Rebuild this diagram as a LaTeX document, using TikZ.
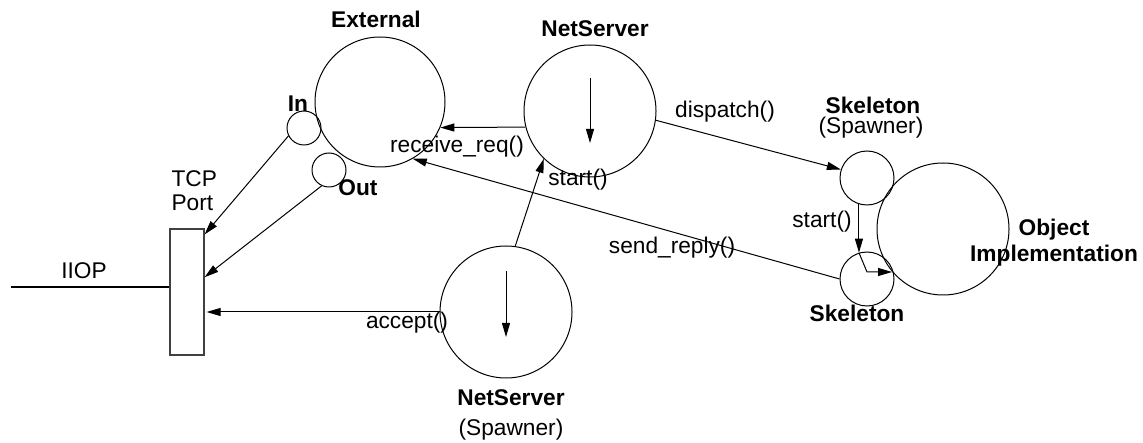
\documentclass[tikz,border=0pt]{standalone}
\usepackage{fontspec}
\setmainfont{Liberation Sans}
\usetikzlibrary{arrows.meta,calc}
\begin{document}
\begin{tikzpicture}[x=1pt,y=-1pt,
  every path/.style={line width=1pt},
  circ/.style={draw,circle,inner sep=0pt,line width=1pt},
  lbl/.style={inner sep=0pt,font=\fontsize{22.7}{24}\selectfont},
  blbl/.style={lbl,font=\fontsize{22.7}{24}\selectfont\bfseries},
  arr/.style={-{Triangle[length=14pt,width=8pt]}},
  portbox/.style={draw=black!75,rectangle,inner sep=0pt,minimum width=34pt,minimum height=126pt,line width=1.2pt}]
\useasboundingbox (0,0) rectangle (1143,443);
% nodes
\node[circ,minimum size=130pt] (ext) at (380,102) {};
\node[circ,minimum size=34pt] (in) at (304,128) {};
\node[circ,minimum size=34pt] (out) at (329,170) {};
\node[circ,minimum size=132pt] (ns1) at (590,111) {};
\node[circ,minimum size=132pt] (ns2) at (506,312) {};
\node[circ,minimum size=54pt] (sk1) at (867,178) {};
\node[circ,minimum size=54pt] (sk2) at (867,279) {};
\node[circ,minimum size=132pt] (obj) at (943,229) {};
\node[portbox] (port) at (187,292) {};
\coordinate (iiop) at (11,287);
% labels
\node[blbl] (lext) at (376,19) {External};
\node[blbl] (lin) at (298,104) {In};
\node[blbl] (lout) at (358,188) {Out};
\node[lbl,align=left,anchor=west] (ltcp) at (171,191) {TCP\\Port};
\node[lbl] (liiop) at (84,271) {IIOP};
\node[lbl] (lrecv) at (457,147) {receive\_req()};
\node[blbl] (lns1) at (595,29) {NetServer};
\node[lbl] (ldisp) at (725,112) {dispatch()};
\node[lbl] (lstart1) at (578,180) {start()};
\node[blbl] (lsk1) at (873,105) {Skeleton};
\node[lbl] (lsp1) at (871,128) {(Spawner)};
\node[lbl] (lstart2) at (822,222) {start()};
\node[lbl] (lsend) at (672,248) {send\_reply()};
\node[blbl,align=center,font=\fontsize{22.7}{26}\selectfont\bfseries] (lobj) at (1054,243) {Object\\Implementation};
\node[blbl] (lsk2) at (857,313) {Skeleton};
\node[lbl] (lacc) at (407,323) {accept()};
\node[blbl] (lns2) at (511,398) {NetServer};
\node[lbl] (lsp2) at (511,430) {(Spawner)};
% connectors
\draw[line width=1.5pt] (iiop) -- (iiop -| port.west);
\draw[arr] (in.207) -- (port.73);
\draw[arr] (out.245) -- (port.40);
\draw[arr] (ns2.west) -- ($(ns2.west -| port.east)+(2,0)$);
\draw[arr] (ns1.194) -- (ext.337);
\draw[arr] (sk2.west) -- (ext.300);
\draw[arr] (ns1.352) -- (sk1.162);
\draw[arr] (ns2.82) -- (ns1.226);
\draw[arr] ($(ns1)+(0,-33)$) -- ($(ns1)+(0,32)$);
\draw[arr] ($(ns2)+(0,-41)$) -- ($(ns2)+(0,25)$);
\draw[arr] (sk1.253) -- (sk2.107);
\coordinate (bend) at ($(sk2)+(0,-7)$);
\draw[arr] (sk2.107) -- (bend) -- (bend -| obj.220);
\end{tikzpicture}
\end{document}
